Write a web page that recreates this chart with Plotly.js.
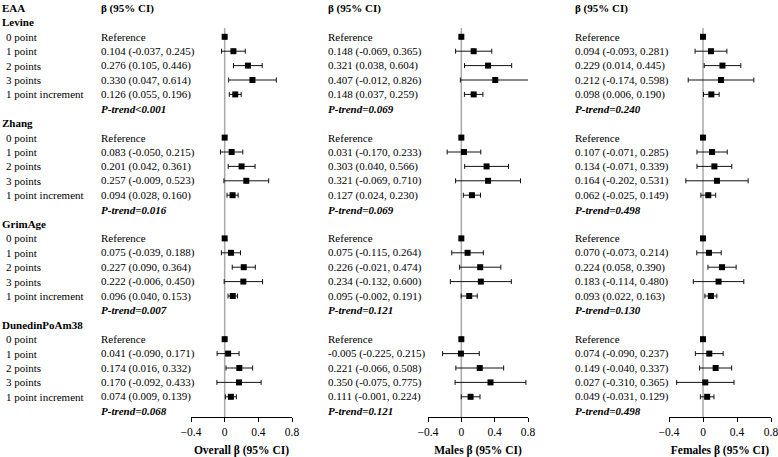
<!DOCTYPE html>
<html><head><meta charset="utf-8">
<script src="https://cdn.plot.ly/plotly-3.0.1.min.js"></script>
<style>html,body{margin:0;padding:0;background:#fff}#chart{width:778px;height:457px}</style>
</head><body><div id="chart"></div>
<script>
// ---------- data ----------
const clocks = ["Levine", "Zhang", "GrimAge", "DunedinPoAm38"];
const levels = ["0 point", "1 point", "2 points", "3 points", "1 point increment"];
const panelTitles = ["Overall β (95% CI)", "Males β (95% CI)", "Females β (95% CI)"];
const colHeader = "β (95% CI)";
const tickVals = [-0.4, 0, 0.4, 0.8];
const tickText = ["−0.4", "0", "0.4", "0.8"];

// rows per clock: 1 point, 2 points, 3 points, 1 point increment (0 point = reference)
const overallBeta = [[0.104, 0.276, 0.330, 0.126], [0.083, 0.201, 0.257, 0.094], [0.075, 0.227, 0.222, 0.096], [0.041, 0.174, 0.170, 0.074]];
const overallLo   = [[-0.037, 0.105, 0.047, 0.055], [-0.050, 0.042, -0.009, 0.028], [-0.039, 0.090, -0.006, 0.040], [-0.090, 0.016, -0.092, 0.009]];
const overallHi   = [[0.245, 0.446, 0.614, 0.196], [0.215, 0.361, 0.523, 0.160], [0.188, 0.364, 0.450, 0.153], [0.171, 0.332, 0.433, 0.139]];
const overallP    = ["<0.001", "=0.016", "=0.007", "=0.068"];

const malesBeta = [[0.148, 0.321, 0.407, 0.148], [0.031, 0.303, 0.321, 0.127], [0.075, 0.226, 0.234, 0.095], [-0.005, 0.221, 0.350, 0.111]];
const malesLo   = [[-0.069, 0.038, -0.012, 0.037], [-0.170, 0.040, -0.069, 0.024], [-0.115, -0.021, -0.132, -0.002], [-0.225, -0.066, -0.075, -0.001]];
const malesHi   = [[0.365, 0.604, 0.826, 0.259], [0.233, 0.566, 0.710, 0.230], [0.264, 0.474, 0.600, 0.191], [0.215, 0.508, 0.775, 0.224]];
const malesP    = ["=0.069", "=0.069", "=0.121", "=0.121"];

const femalesBeta = [[0.094, 0.229, 0.212, 0.098], [0.107, 0.134, 0.164, 0.062], [0.070, 0.224, 0.183, 0.093], [0.074, 0.149, 0.027, 0.049]];
const femalesLo   = [[-0.093, 0.014, -0.174, 0.006], [-0.071, -0.071, -0.202, -0.025], [-0.073, 0.058, -0.114, 0.022], [-0.090, -0.040, -0.310, -0.031]];
const femalesHi   = [[0.281, 0.445, 0.598, 0.190], [0.285, 0.339, 0.531, 0.149], [0.214, 0.390, 0.480, 0.163], [0.237, 0.337, 0.365, 0.129]];
const femalesP    = ["=0.240", "=0.498", "=0.130", "=0.498"];

// ---------- layout geometry (pixels) ----------
const W = 778, H = 457;
const rowPx = 14.4, row0Px = 8, axisPx = 417;
const panelDomPx = [[191, 292], [428, 528], [669, 771]];
const ciColPx = [100, 327, 574];
const labelPx = 1, levelPx = 5;
const FONT = "Liberation Serif, Times New Roman, serif";
const FS = 11;

const panels = [
  {beta: overallBeta, lo: overallLo, hi: overallHi, p: overallP},
  {beta: malesBeta, lo: malesLo, hi: malesHi, p: malesP},
  {beta: femalesBeta, lo: femalesLo, hi: femalesHi, p: femalesP}
];

const headerRow = c => 1 + 7 * c;
const levelRow = (c, j) => 2 + 7 * c + j;
const pRow = c => 7 + 7 * c;

const traces = [];
const annotations = [];
const shapes = [];
const fmt = v => v.toFixed(3);

function ann(xpx, row, text, extra) {
  annotations.push(Object.assign({
    xref: "paper", yref: "y", x: xpx / W, y: row, text: text,
    showarrow: false, xanchor: "left", yanchor: "middle",
    font: {family: FONT, size: FS, color: "#000"}, borderpad: 0
  }, extra || {}));
}

// label column
ann(labelPx, 0, "<b>EAA</b>");
clocks.forEach((c, ci) => {
  ann(labelPx, headerRow(ci), "<b>" + c + "</b>");
  levels.forEach((l, j) => ann(levelPx, levelRow(ci, j), l));
});

panels.forEach((pn, pi) => {
  const ax = pi === 0 ? "x" : "x" + (pi + 1);
  const xs = [], ys = [], ep = [], em = [];
  ann(ciColPx[pi], 0, "<b>" + colHeader + "</b>");
  clocks.forEach((c, ci) => {
    xs.push(0); ys.push(levelRow(ci, 0)); ep.push(0); em.push(0);
    ann(ciColPx[pi], levelRow(ci, 0), "Reference");
    for (let k = 0; k < 4; k++) {
      const b = pn.beta[ci][k], lo = pn.lo[ci][k], hi = pn.hi[ci][k];
      xs.push(b); ys.push(levelRow(ci, k + 1));
      ep.push(hi - b); em.push(b - lo);
      ann(ciColPx[pi], levelRow(ci, k + 1), fmt(b) + " (" + fmt(lo) + ", " + fmt(hi) + ")");
    }
    ann(ciColPx[pi], pRow(ci), "<b><i>P-trend" + pn.p[ci].replace("<", "&lt;") + "</i></b>");
  });
  traces.push({
    type: "scatter", mode: "markers", x: xs, y: ys, xaxis: ax, yaxis: "y",
    cliponaxis: false, hoverinfo: "skip",
    marker: {symbol: "square", size: 6, color: "#000"},
    error_x: {type: "data", symmetric: false, array: ep, arrayminus: em,
              color: "#111", thickness: 1, width: 2.5}
  });
  shapes.push({type: "line", xref: ax, yref: "y", x0: 0, x1: 0,
               y0: (28 - row0Px) / rowPx, y1: (axisPx - row0Px) / rowPx,
               line: {color: "#a8a8a8", width: 1.5}, layer: "below"});
});

const baseX = (pi) => ({
  domain: [panelDomPx[pi][0] / W, panelDomPx[pi][1] / W],
  range: [-0.4, 0.8], anchor: "y", fixedrange: true,
  showgrid: false, zeroline: false, showline: true, linecolor: "#000", linewidth: 1,
  ticks: "outside", ticklen: 4, tickcolor: "#000", tickwidth: 1,
  tickmode: "array", tickvals: tickVals, ticktext: tickText,
  ticklabeloverflow: "allow",
  tickfont: {family: FONT, size: 11.5, color: "#000"},
  title: {text: "<b>" + panelTitles[pi] + "</b>", font: {family: FONT, size: 11.5, color: "#000"}, standoff: 10}
});

const layout = {
  width: W, height: H,
  margin: {l: 0, r: 0, t: 0, b: 0},
  paper_bgcolor: "#fff", plot_bgcolor: "rgba(0,0,0,0)",
  showlegend: false,
  xaxis: baseX(0), xaxis2: baseX(1), xaxis3: baseX(2),
  yaxis: {domain: [(H - axisPx) / H, 1], range: [(axisPx - row0Px) / rowPx, -row0Px / rowPx],
          visible: false, fixedrange: true},
  annotations: annotations, shapes: shapes
};

Plotly.newPlot("chart", traces, layout, {staticPlot: true, displayModeBar: false});
</script></body></html>
